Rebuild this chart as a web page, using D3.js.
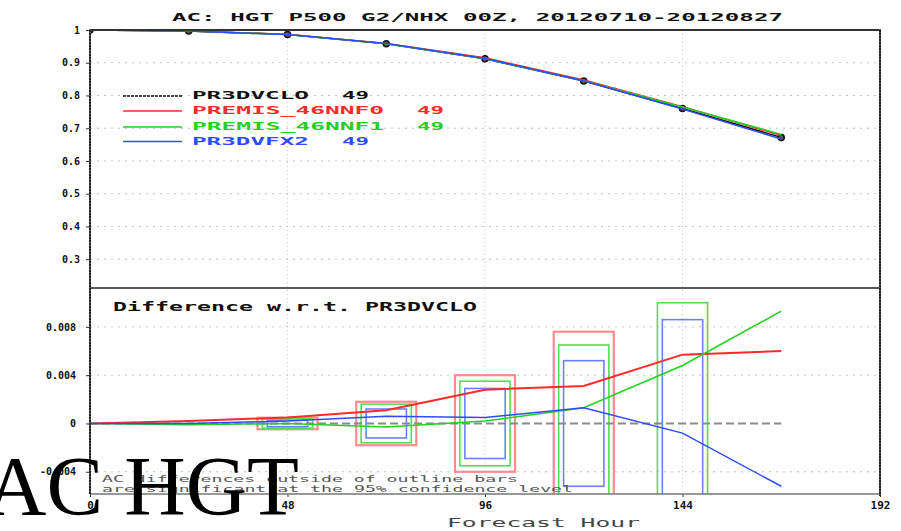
<!DOCTYPE html>
<html>
<head>
<meta charset="utf-8">
<script src="https://cdn.jsdelivr.net/npm/d3@7"></script>
<style>
  html, body { margin: 0; padding: 0; background: #fff; }
  svg { display: block; }
</style>
</head>
<body>
<svg id="chart" width="901" height="531"></svg>
<script>
// Forecast hours (verification times)
const hours = [0, 24, 48, 72, 96, 120, 144, 168];

// Anomaly correlation, 500 hPa height, NH extratropics
const acPR3DVCLO     = [1.000, 0.997, 0.986, 0.958, 0.912, 0.844, 0.760, 0.672];
const acPREMIS46NNF0 = [1.000, 0.997, 0.987, 0.959, 0.915, 0.847, 0.766, 0.678];
const acPREMIS46NNF1 = [1.000, 0.997, 0.986, 0.958, 0.912, 0.845, 0.765, 0.681];
const acPR3DVFX2     = [1.000, 0.997, 0.986, 0.959, 0.913, 0.845, 0.759, 0.667];

// Differences with respect to PR3DVCLO
const diffPREMIS46NNF0 = [0, 0.0002, 0.0005, 0.0011, 0.0028, 0.0031, 0.0057, 0.0060];
const diffPREMIS46NNF1 = [0, -0.0001, 0.0000, -0.0003, 0.0002, 0.0013, 0.0048, 0.0093];
const diffPR3DVFX2     = [0, 0.0000, 0.0002, 0.0006, 0.0005, 0.0013, -0.0008, -0.0052];

// 95% significance half-ranges (outline bars)
const barHours = [48, 72, 96, 120, 144];
const sigPREMIS46NNF0 = [0.00048, 0.0018, 0.0040, 0.0076, null];
const sigPREMIS46NNF1 = [0.00039, 0.0016, 0.0035, 0.0065, 0.0100];
const sigPR3DVFX2     = [0.00027, 0.0012, 0.0029, 0.0052, 0.0086];

const seriesNames = ["PR3DVCLO", "PREMIS_46NNF0", "PREMIS_46NNF1", "PR3DVFX2"];
const seriesCounts = [49, 49, 49, 49];

const topTicks = [1, 0.9, 0.8, 0.7, 0.6, 0.5, 0.4, 0.3];
const topTickLabels = ["1", "0.9", "0.8", "0.7", "0.6", "0.5", "0.4", "0.3"];
const botTicks = [0.008, 0.004, 0, -0.004];
const botTickLabels = ["0.008", "0.004", "0", "-0.004"];
const xTicks = [0, 48, 96, 144, 192];

// ---- layout ----
const svg = d3.select("#chart");
const L = 90, R = 880, T = 30, MID = 288, B = 494;
const colors = ["#111111", "#ff2a2a", "#22d022", "#2f4bff"];
const boxColors = ["#ff8c8c", "#55dd55", "#6f80ff"];
const boxHalfHours = [7.3, 6.1, 4.9];
const monoFont = "'DejaVu Sans Mono', monospace";
const pitch = 15;   // legend character cell width

const x = d3.scaleLinear().domain([0, 192]).range([L, R]);
const yTop = d3.scaleLinear().domain([0.212, 1]).range([MID, T]);
const yBot = d3.scaleLinear().domain([-0.00584, 0.01122]).range([B, MID]);

// stretched monospace text, GrADS style
function label(g, o) {
  const t = g.append("text")
    .attr("x", o.x).attr("y", o.y)
    .attr("font-family", monoFont)
    .attr("font-size", o.size)
    .attr("font-weight", o.weight || "bold")
    .attr("fill", o.fill || "#111")
    .attr("text-anchor", o.anchor || "start")
    .text(o.text);
  if (o.len) t.attr("textLength", o.len).attr("lengthAdjust", "spacingAndGlyphs");
  return t;
}

const defs = svg.append("defs");
defs.append("clipPath").attr("id", "clipTop")
  .append("rect").attr("x", L).attr("y", T).attr("width", R - L).attr("height", MID - T);
defs.append("clipPath").attr("id", "clipBot")
  .append("rect").attr("x", L).attr("y", MID).attr("width", R - L).attr("height", B - MID);

// ---- title ----
label(svg, { x: 172, y: 20.5, text: "AC: HGT P500 G2/NHX 00Z, 20120710-20120827", size: 10.5, len: 611 });

// ---- grids ----
const grid = svg.append("g");
grid.selectAll("line.hy").data(topTicks.filter(d => d < 1)).join("line")
  .attr("x1", L).attr("x2", R).attr("y1", d => yTop(d)).attr("y2", d => yTop(d))
  .attr("stroke", "#c4c4c4").attr("stroke-width", 1).attr("stroke-dasharray", "2,5");
grid.selectAll("line.by").data(botTicks.filter(d => d !== 0)).join("line")
  .attr("x1", L).attr("x2", R).attr("y1", d => yBot(d)).attr("y2", d => yBot(d))
  .attr("stroke", "#c4c4c4").attr("stroke-width", 1).attr("stroke-dasharray", "2,5");
grid.selectAll("line.vx").data([48, 96, 144]).join("line")
  .attr("x1", d => x(d)).attr("x2", d => x(d)).attr("y1", T).attr("y2", B)
  .attr("stroke", "#c8c8c8").attr("stroke-width", 1).attr("stroke-dasharray", "1,3");

// ---- legend ----
const leg = svg.append("g");
const legY = [96, 111, 127, 141.5];
seriesNames.forEach((n, i) => {
  leg.append("line").attr("x1", 123).attr("x2", 182).attr("y1", legY[i]).attr("y2", legY[i])
    .attr("stroke", colors[i]).attr("stroke-width", 1.3)
    .attr("stroke-dasharray", i === 0 ? "3,1" : null);
  label(leg, { x: 192, y: legY[i] + 3, text: n, size: 11, fill: colors[i],
    len: (n.length - 1) * pitch + 12 });
  const c = String(seriesCounts[i]);
  label(leg, { x: 192 + (n.length + 2) * pitch, y: legY[i] + 3, text: c, size: 11, fill: colors[i],
    len: (c.length - 1) * pitch + 12 });
});

// ---- top panel lines ----
const topG = svg.append("g").attr("clip-path", "url(#clipTop)");
const lineTop = d3.line().x((d, i) => x(hours[i])).y(d => yTop(d));
topG.append("path").datum(acPR3DVCLO).attr("d", lineTop)
  .attr("fill", "none").attr("stroke", colors[0]).attr("stroke-width", 1.5);
topG.selectAll("circle").data(acPR3DVCLO).join("circle")
  .attr("cx", (d, i) => x(hours[i])).attr("cy", d => yTop(d)).attr("r", 3)
  .attr("fill", "#555").attr("stroke", "#111").attr("stroke-width", 1.5);
[acPREMIS46NNF0, acPREMIS46NNF1, acPR3DVFX2].forEach((s, k) => {
  topG.append("path").datum(s).attr("d", lineTop)
    .attr("fill", "none").attr("stroke", colors[k + 1]).attr("stroke-width", 1.5);
});

// ---- bottom panel ----
const botG = svg.append("g").attr("clip-path", "url(#clipBot)");
label(svg, { x: 113, y: 310.5, text: "Difference w.r.t. PR3DVCLO", size: 12, len: 364 });

// significance outline bars
[sigPREMIS46NNF0, sigPREMIS46NNF1, sigPR3DVFX2].forEach((sig, k) => {
  barHours.forEach((h, j) => {
    const v = sig[j];
    if (v == null) return;
    const hw = boxHalfHours[k];
    botG.append("rect")
      .attr("x", x(h - hw)).attr("width", x(h + hw) - x(h - hw))
      .attr("y", yBot(v)).attr("height", yBot(-v) - yBot(v))
      .attr("fill", "none").attr("stroke", boxColors[k])
      .attr("stroke-width", k === 0 ? 2.2 : 1.6);
  });
});

// zero (reference) line
botG.append("line").attr("x1", x(0)).attr("x2", x(168))
  .attr("y1", yBot(0)).attr("y2", yBot(0))
  .attr("stroke", "#8a8a8a").attr("stroke-width", 2).attr("stroke-dasharray", "8,4");

const lineBot = d3.line().x((d, i) => x(hours[i])).y(d => yBot(d));
[diffPREMIS46NNF0, diffPREMIS46NNF1, diffPR3DVFX2].forEach((s, k) => {
  botG.append("path").datum(s).attr("d", lineBot)
    .attr("fill", "none").attr("stroke", colors[k + 1]).attr("stroke-width", k === 0 ? 2 : 1.5);
});

// note
label(svg, { x: 102, y: 482, text: "AC differences outside of outline bars", size: 9, weight: "normal", fill: "#555", len: 416 });
label(svg, { x: 102, y: 492, text: "are significant at the 95% confidence level", size: 9, weight: "normal", fill: "#555", len: 471 });

// ---- axes and frame ----
const axTop = svg.append("g").attr("transform", `translate(${L},0)`)
  .call(d3.axisLeft(yTop).tickValues(topTicks).tickSize(4).tickPadding(6)
    .tickFormat((d, i) => topTickLabels[i]));
const axBot = svg.append("g").attr("transform", `translate(${L},0)`)
  .call(d3.axisLeft(yBot).tickValues(botTicks).tickSize(4).tickPadding(10)
    .tickFormat((d, i) => botTickLabels[i]));
const axX = svg.append("g").attr("transform", `translate(0,${B})`)
  .call(d3.axisBottom(x).tickValues(xTicks).tickSize(3).tickPadding(4).tickFormat(d3.format("d")));
[axTop, axBot, axX].forEach(a => {
  a.select(".domain").remove();
  a.selectAll(".tick line").attr("stroke", "#333").attr("stroke-width", 1);
  a.selectAll(".tick text").attr("font-family", monoFont).attr("font-weight", "bold")
    .attr("font-size", 10).attr("fill", "#111");
});
axX.selectAll(".tick text").attr("font-size", 11);

const frame = svg.append("g").attr("fill", "none");
frame.append("line").attr("x1", L).attr("x2", R).attr("y1", T).attr("y2", T)
  .attr("stroke", "#333").attr("stroke-width", 2);
frame.append("line").attr("x1", L).attr("x2", R).attr("y1", MID).attr("y2", MID)
  .attr("stroke", "#222").attr("stroke-width", 1.5);
frame.append("line").attr("x1", L).attr("x2", R).attr("y1", B).attr("y2", B)
  .attr("stroke", "#777").attr("stroke-width", 1.5);
frame.append("line").attr("x1", L).attr("x2", L).attr("y1", T - 1).attr("y2", B)
  .attr("stroke", "#222").attr("stroke-width", 2);
frame.append("line").attr("x1", L).attr("x2", L).attr("y1", T - 1).attr("y2", B)
  .attr("stroke", "#888").attr("stroke-width", 1).attr("stroke-dasharray", "1,2");
frame.append("line").attr("x1", R).attr("x2", R).attr("y1", T - 1).attr("y2", B + 2)
  .attr("stroke", "#222").attr("stroke-width", 2);
frame.append("line").attr("x1", R).attr("x2", R).attr("y1", T - 1).attr("y2", B + 2)
  .attr("stroke", "#888").attr("stroke-width", 1).attr("stroke-dasharray", "1,2");

// axis title
label(svg, { x: 447, y: 527, text: "Forecast Hour", size: 13, weight: "normal", fill: "#444", len: 193 });

// heading overlay
svg.append("text").attr("x", -15).attr("y", 515)
  .attr("font-family", "'Liberation Serif', 'Times New Roman', serif")
  .attr("font-size", 85).attr("fill", "#000")
  .text("AC HGT");
</script>
</body>
</html>
